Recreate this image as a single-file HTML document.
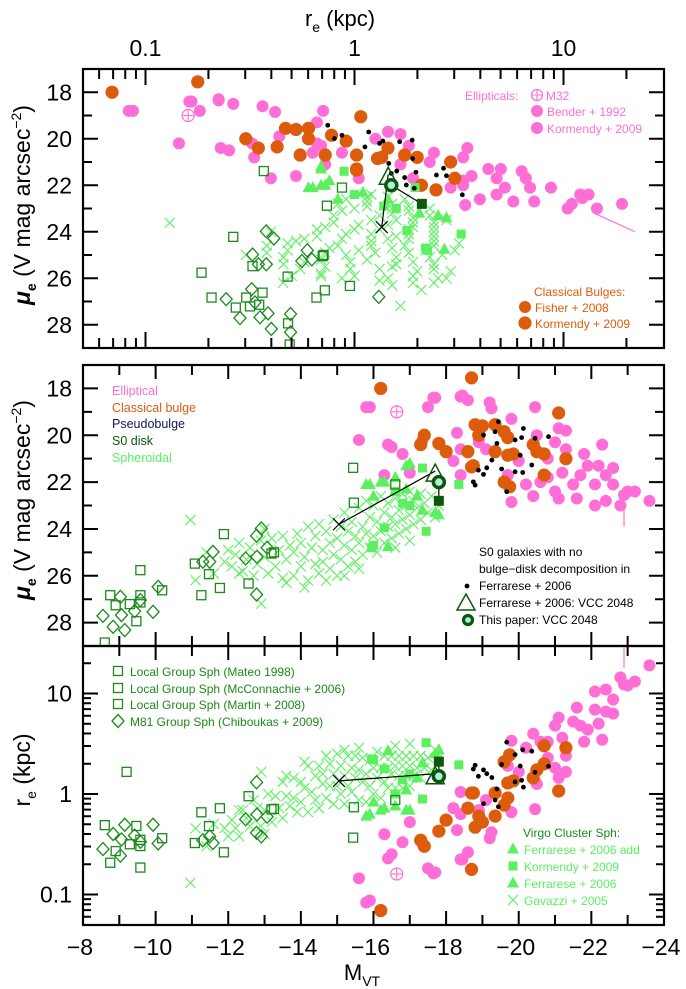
<!DOCTYPE html>
<html><head><meta charset="utf-8"><style>
html,body{margin:0;padding:0;background:#fff}
svg{display:block;font-family:"Liberation Sans",sans-serif}
</style></head><body>
<svg id="chart" width="686" height="989" viewBox="0 0 686 989">
<defs>
<clipPath id="c1"><rect x="83" y="69" width="581" height="279"/></clipPath>
<clipPath id="c2"><rect x="83" y="365" width="581" height="281"/></clipPath>
<clipPath id="c3"><rect x="83" y="646" width="581" height="279"/></clipPath>
</defs>
<g id="marks1" clip-path="url(#c1)"></g>
<g id="marks2" clip-path="url(#c2)"></g>
<g id="marks3" clip-path="url(#c3)"></g>
<g id="axes"></g>
<g id="legends"></g>
</svg>
<script>
// ---- data (M_VT, mu_e) ----
const pinkM=[-15.8,-16.4,-16.8,-17.5,-17.65,-18.4,-18.6,-19.2,-19.25,-19.8,-20.45,-20.5,-21.1,-21.3,-22.3,-18.3,-18.4,-18.2,-18.4,-18.9,-19.1,-19.8,-20.4,-20.2,-20.6,-21.0,-21.2,-21.5,-21.6,-21.9,-22.1,-22.1,-22.4,-22.6,-22.9,-23.2,-23.6,-21.3,-21.8,-20.8,-20.8,-21.1,-21.7,-22.2,-22.6,-22.8,-22.4,-23.0,-21.0,-20.0,-19.7,-17.0,-15.6,-15.9,-16.5,-17.35,-18.45,-17.7,-18.9,-16.3];
const pinkMu=[18.8,20.4,20.8,18.8,18.4,18.35,18.5,18.6,18.85,19.3,18.8,20.0,19.7,19.8,20.4,19.9,20.6,21.1,21.7,20.3,20.6,22.85,22.6,22.1,22.0,22.4,21.6,22.1,22.7,21.3,22.1,23.0,21.7,22.1,22.55,22.4,22.8,20.6,20.8,21.0,21.8,22.7,21.7,21.3,21.4,23.0,22.8,22.4,20.3,21.1,21.7,21.6,20.2,18.8,20.5,20.2,18.3,18.4,20.2,21.7];
const orangeM=[-16.2,-18.7,-21.1,-17.4,-17.3,-17.8,-18.0,-18.6,-18.7,-18.8,-19.0,-18.9,-19.35,-19.6,-19.7,-19.35,-19.7,-19.85,-19.6,-19.75,-20.4,-20.5,-20.7,-20.7,-21.3,-18.75];
const orangeMu=[18.0,17.55,19.05,20.0,20.4,20.35,20.7,20.7,21.35,19.55,19.6,20.0,19.55,19.85,20.1,20.7,20.85,20.8,22.0,22.2,20.4,20.7,20.8,21.7,21.0,21.3];
const dotM=[-19.44,-19.35,-19.03,-20.13,-20.08,-19.9,-20.45,-20.82,-19.4,-20.04,-19.26,-19.53,-19.9,-20.11,-20.36,-19.12,-18.89,-19.03,-18.75,-18.8,-19.67];
const dotMu=[19.42,19.85,19.99,19.71,20.1,20.2,20.13,20.06,20.35,20.85,21.06,21.44,21.56,21.59,21.27,21.39,21.49,21.67,21.99,22.13,22.41];
const crossM=[-11.9,-12.0,-12.1,-12.2,-12.3,-12.4,-12.5,-12.6,-12.7,-12.8,-12.9,-13.0,-13.1,-13.2,-13.3,-13.4,-13.5,-13.5,-13.6,-13.7,-13.8,-13.8,-13.9,-14.0,-14.0,-14.1,-14.2,-14.2,-14.3,-14.4,-14.4,-14.5,-14.5,-14.6,-14.6,-14.7,-14.8,-14.8,-14.9,-14.9,-15.0,-15.0,-15.1,-15.1,-15.2,-15.2,-15.3,-15.3,-15.4,-15.4,-15.5,-15.5,-15.6,-15.6,-15.7,-15.7,-15.8,-15.8,-15.9,-15.9,-16.0,-16.0,-16.1,-16.1,-16.2,-16.2,-16.3,-16.3,-16.4,-16.4,-16.5,-16.5,-16.6,-16.6,-16.7,-16.7,-16.8,-16.8,-16.9,-16.9,-17.0,-17.0,-17.1,-17.1,-17.2,-17.3,-17.3,-17.4,-17.5,-17.6,-17.7,-17.8,-12.3,-13.0,-13.6,-14.1,-14.7,-15.2,-15.6,-16.6,-17.0,-11.6,-11.4,-10.96,-11.1,-12.91];
const crossMu=[25.4,24.9,25.6,25.1,24.6,25.8,25.3,24.8,26.0,25.5,24.5,25.2,25.9,24.4,25.6,24.9,26.1,24.3,25.3,24.7,26.0,25.0,24.2,25.6,24.6,25.2,23.9,26.2,24.8,25.5,24.3,25.9,23.8,24.9,25.4,24.1,25.7,24.6,23.6,25.1,24.4,26.0,23.9,25.3,24.7,23.3,25.6,24.1,23.7,24.9,24.3,25.4,23.1,24.6,23.9,25.1,22.8,24.2,23.5,24.8,23.0,24.3,23.7,25.0,22.6,24.1,23.3,24.6,22.9,23.9,23.5,24.4,22.7,23.8,23.2,24.2,22.5,23.6,23.0,24.0,22.4,23.4,22.8,23.8,23.1,22.5,23.6,22.9,23.3,22.6,23.5,23.0,25.9,24.0,26.3,26.5,26.2,26.0,25.7,24.8,24.5,25.9,25.0,23.62,26.19,27.19];
const triM=[-16.9,-15.9,-16.3,-16.6,-17.0,-17.35,-17.8,-17.7,-16.4,-16.2,-15.8,-16.9,-17.2,-16.0];
const triMu=[21.3,22.1,22.0,21.8,21.2,23.2,23.4,23.3,24.75,22.0,22.1,22.3,22.6,22.6];
const vsqM=[-17.35,-16.6,-16.3,-16.0,-15.95,-17.45,-18.35,-16.8,-17.0];
const vsqMu=[21.4,22.4,23.95,24.7,24.8,24.1,22.1,22.9,23.0];
const lgM=[-15.44,-15.46,-11.88,-11.08,-11.47,-11.77,-11.26,-12.56,-13.19,-13.26,-9.58,-8.75,-8.9,-9.29,-9.58,-9.58,-9.47,-10.18,-8.6,-16.6,-9.2];
const lgMu=[21.39,22.88,24.22,25.48,25.93,26.52,26.83,26.33,25.05,25.0,25.76,26.83,27.26,27.21,26.83,27.14,27.94,26.62,28.85,22.1,30.9];
const m81M=[-12.91,-12.78,-11.58,-11.49,-11.3,-12.48,-12.79,-13.07,-12.78,-10.07,-9.93,-9.03,-9.42,-9.58,-9.06,-8.55,-8.83,-9.15];
const m81Mu=[23.98,24.29,24.98,25.4,25.4,25.26,25.19,24.8,26.8,26.47,27.54,26.9,27.51,27.04,27.68,27.71,28.18,28.32];
// VCC 2048 special points: X (Gavazzi), triangle (Ferrarese), circle (this paper), S0 disk square
const vccM=[-15.05,-17.7,-17.8,-17.8];
const vccMu=[23.8,21.7,22.0,22.8];
const vccRe=[1.35,1.45,1.5,2.1];
const m32M=[-16.64], m32Mu=[19.0], m32Re=[0.16];
// photometric zero points relating M, mu_e, r_e
const cEll=40.0, cSph=39.0, cDot=39.5;
const xTicksM=[-8,-10,-12,-14,-16,-18,-20,-22,-24];
const muTicks=[18,20,22,24,26,28];
const reTicks=[0.1,1,10];

// ---- scales ----
const xM=M=>83+(-8-M)*36.31;
const xR=r=>354.5+209*Math.log10(r);
const y1=mu=>69+(mu-17)*23.25;
const y2=mu=>365+(mu-17)*23.42;
const y3=r=>794-100.5*Math.log10(r);
const reOf=(M,mu,c)=>Math.pow(10,(mu-M-c)/5);

const NS='http://www.w3.org/2000/svg';
function mk(tag,attrs,parent){const e=document.createElementNS(NS,tag);for(const k in attrs)e.setAttribute(k,attrs[k]);parent.appendChild(e);return e;}
const P=[document.getElementById('marks1'),document.getElementById('marks2'),document.getElementById('marks3')];
const PINK='#ff6ed6',ORANGE='#dd5c0c',LG='#5cf060',DG='#1b8a1b',S0='#0d560d';

function marker(kind,x,y,color,g,name){
  let e;
  if(kind==='circle'){e=mk('circle',{cx:x,cy:y,r:6,fill:color},g);}
  else if(kind==='bigcircle'){e=mk('circle',{cx:x,cy:y,r:6.6,fill:color},g);}
  else if(kind==='dot'){e=mk('circle',{cx:x,cy:y,r:2.4,fill:color},g);}
  else if(kind==='cross'){e=mk('path',{d:`M${x-5},${y-5}L${x+5},${y+5}M${x-5},${y+5}L${x+5},${y-5}`,stroke:color,'stroke-width':1.1,fill:'none'},g);}
  else if(kind==='tri'){e=mk('path',{d:`M${x},${y-6.5}L${x+6},${y+4.5}L${x-6},${y+4.5}Z`,fill:color},g);}
  else if(kind==='fsq'){e=mk('rect',{x:x-4.5,y:y-4.5,width:9,height:9,fill:color},g);}
  else if(kind==='osq'){e=mk('rect',{x:x-4.5,y:y-4.5,width:9,height:9,fill:'none',stroke:color,'stroke-width':1.3},g);}
  else if(kind==='dia'){e=mk('path',{d:`M${x},${y-6.5}L${x+6},${y}L${x},${y+6.5}L${x-6},${y}Z`,fill:'none',stroke:color,'stroke-width':1.3},g);}
  
  
  return e;
}
function plotGroup(Ms,Mus,c,kind,color,name){
  const n=Math.min(Ms.length,Mus.length);
  for(let i=0;i<n;i++){
    const re=reOf(Ms[i],Mus[i],c);
    marker(kind,xR(re),y1(Mus[i]),color,P[0],name);
    marker(kind,xM(Ms[i]),y2(Mus[i]),color,P[1],name);
    marker(kind,xM(Ms[i]),y3(re),color,P[2],name);
  }
}
plotGroup(pinkM,pinkMu,cEll,'circle',PINK,'elliptical-point');
plotGroup(orangeM,orangeMu,cEll,'bigcircle',ORANGE,'classical-bulge-point');
plotGroup(crossM,crossMu,cSph,'cross',LG,'gavazzi-spheroidal-point');
plotGroup(triM,triMu,cSph,'tri',LG,'ferrarese-spheroidal-point');
plotGroup(vsqM,vsqMu,cSph,'fsq',LG,'kormendy-spheroidal-point');
plotGroup(lgM,lgMu,cSph,'osq',DG,'local-group-sph-point');
plotGroup(m81M,m81Mu,cSph,'dia',DG,'m81-group-sph-point');
plotGroup(dotM,dotMu,cDot,'dot','#000','s0-no-decomposition-point');

// M32
for(let i=0;i<m32M.length;i++){
  const pts=[[xR(m32Re[i]),y1(m32Mu[i]),0],[xM(m32M[i]),y2(m32Mu[i]),1],[xM(m32M[i]),y3(m32Re[i]),2]];
  pts.forEach(([x,y,p])=>{const g=mk('g',{},P[p]);
    
    
    mk('circle',{cx:x,cy:y,r:6,fill:'none',stroke:PINK,'stroke-width':1.2},g);
    mk('path',{d:`M${x-6},${y}H${x+6}M${x},${y-6}V${y+6}`,stroke:PINK,'stroke-width':1.1},g);});
}
// pink error bars
mk('line',{x1:xR(14),y1:y1(23.2),x2:xR(22),y2:y1(24.0),stroke:PINK,'stroke-width':1.2},P[0]);
mk('line',{x1:xM(-22.9),y1:y2(23.1),x2:xM(-22.9),y2:y2(23.9),stroke:PINK,'stroke-width':1.2},P[1]);
mk('line',{x1:xM(-22.9),y1:y3(18),x2:xM(-22.9),y2:y3(32),stroke:PINK,'stroke-width':1.2},P[2]);

// VCC 2048
function vcc(p,fx,fy){
  const g=mk('g',{},P[p]);
  
  
  const X=vccM.map((m,i)=>fx(i)), Y=vccM.map((m,i)=>fy(i));
  mk('line',{x1:X[0],y1:Y[0],x2:X[1],y2:Y[1]-4,stroke:'#000','stroke-width':1.2},g);
  mk('line',{x1:X[2],y1:Y[2],x2:X[3],y2:Y[3],stroke:'#000','stroke-width':1.2},g);
  mk('path',{d:`M${X[0]-6},${Y[0]-6}L${X[0]+6},${Y[0]+6}M${X[0]-6},${Y[0]+6}L${X[0]+6},${Y[0]-6}`,stroke:'#000','stroke-width':1.2},g);
  mk('rect',{x:X[3]-5,y:Y[3]-5,width:10,height:10,fill:S0},g);
  mk('path',{d:`M${X[1]},${Y[1]-11}L${X[1]+9},${Y[1]+6}L${X[1]-9},${Y[1]+6}Z`,fill:'none',stroke:S0,'stroke-width':1.5},g);
  mk('circle',{cx:X[2],cy:Y[2],r:5.5,fill:'#b0f0e0',stroke:S0,'stroke-width':3.5},g);
}
vcc(0,i=>xR(vccRe[i]),i=>y1(vccMu[i]));
vcc(1,i=>xM(vccM[i]),i=>y2(vccMu[i]));
vcc(2,i=>xM(vccM[i]),i=>y3(vccRe[i]));

// ---- axes ----
const A=document.getElementById('axes');
function txt(s,x,y,size,anchor,parent,name,fill){const t=mk('text',{x:x,y:y,'font-size':size,'text-anchor':anchor||'middle',fill:fill||'#000'},parent||A);t.textContent=s;return t;}
const panels=[[69,348],[365,646],[646,925]];
panels.forEach(([t,b],i)=>{const r=mk('rect',{x:83,y:t,width:581,height:b-t,fill:'none',stroke:'#000','stroke-width':2.2},A);
  });
let d='';
for(let e=-2;e<=1;e++)for(let k=1;k<=9;k++){const r=k*Math.pow(10,e);const x=xR(r);if(x<84||x>663)continue;const L=k===1?16:10;
  d+=`M${x},69v${L}M${x},348v${-L}`;}
for(let m=-9;m>=-23;m--){const x=xM(m);const L=(m%2===0)?14:10;
  d+=`M${x},365v${L}M${x},646v${-L}M${x},646v${L}M${x},925v${-L}`;}
for(let mu=17;mu<=29;mu++){const L=(mu%2===0)?15:9;
  [y1(mu),y2(mu)].forEach((y,pi)=>{const top=pi?365:69,bot=pi?646:348;if(y<=top+1||y>=bot-1)return;d+=`M83,${y}h${L}M664,${y}h${-L}`;});}
for(let e=-2;e<=1;e++)for(let k=1;k<=9;k++){const r=k*Math.pow(10,e);const y=y3(r);if(y<647||y>924)continue;const L=k===1?15:8;
  d+=`M83,${y}h${L}M664,${y}h${-L}`;}
const tk=mk('path',{d:d,stroke:'#000','stroke-width':2,fill:'none'},A);


xTicksM.forEach(m=>txt(String(m).replace('-','\u2212'),xM(m)-3,955,23,'middle',A,'x-tick-label'));
reTicks.forEach(r=>txt(String(r),xR(r),56,23,'middle',A,'top-x-tick-label'));
muTicks.forEach(mu=>{txt(String(mu),72,y1(mu)+8,23,'end',A,'y-tick-label-panel1');txt(String(mu),72,y2(mu)+8,23,'end',A,'y-tick-label-panel2');});
[[10,'10'],[1,'1'],[0.1,'0.1']].forEach(([r,s])=>txt(s,72,y3(r)+8,23,'end',A,'y-tick-label-panel3'));

const tt=mk('text',{x:340,y:26,'font-size':22,'text-anchor':'middle'},A);
tt.innerHTML='r<tspan font-size="14" dy="6">e</tspan><tspan dy="-6"> (kpc)</tspan>';
const bt=mk('text',{x:362,y:980,'font-size':22,'text-anchor':'middle'},A);
bt.innerHTML='M<tspan font-size="14" dy="6">VT</tspan>';
function ytitle(cy,html,name){const t=mk('text',{x:0,y:0,'font-size':23,'text-anchor':'middle',transform:`translate(30,${cy}) rotate(-90)`},A);t.innerHTML=html;}
ytitle(205,'<tspan font-style="italic" font-weight="bold">μ</tspan><tspan font-size="14" dy="6" font-weight="bold">e</tspan><tspan dy="-6"> (V mag arcsec</tspan><tspan font-size="14" dy="-9">−2</tspan><tspan dy="9">)</tspan>','y-axis-title-panel1');
ytitle(500,'<tspan font-style="italic" font-weight="bold">μ</tspan><tspan font-size="14" dy="6" font-weight="bold">e</tspan><tspan dy="-6"> (V mag arcsec</tspan><tspan font-size="14" dy="-9">−2</tspan><tspan dy="9">)</tspan>','y-axis-title-panel2');
ytitle(770,'r<tspan font-size="14" dy="6">e</tspan><tspan dy="-6">  (kpc)</tspan>','y-axis-title-panel3');

// ---- legends ----
const Lg=document.getElementById('legends');
function lgEntry(kind,mx,my,color,text,tx,ty,tcolor,size,name){
  const g=mk('g',{},Lg);
  if(kind)marker(kind,mx,my,color,g,name+'-marker');
  txt(text,tx,ty,size||12,'start',g,name+'-label',tcolor);
}
lgEntry(null,0,0,'', 'Ellipticals:',465,100,PINK,12,'legend-ellipticals');
{const g=mk('g',{},Lg);
 mk('circle',{cx:537,cy:95,r:5.5,fill:'none',stroke:PINK,'stroke-width':1.2},g);mk('path',{d:'M531.5,95h11M537,89.5v11',stroke:PINK,'stroke-width':1.1},g);}
lgEntry(null,0,0,'','M32',546,100,PINK,12,'legend-m32');
lgEntry('circle',537,111,PINK,'Bender + 1992',547,116,PINK,12,'legend-bender-1992');
lgEntry('circle',537,128,PINK,'Kormendy + 2009',547,133,PINK,12,'legend-kormendy-2009-ell');
lgEntry(null,0,0,'','Classical Bulges:',534,296,ORANGE,12,'legend-classical-bulges');
lgEntry('circle',525,307,ORANGE,'Fisher + 2008',535,312,ORANGE,12,'legend-fisher-2008');
lgEntry('bigcircle',525,323,ORANGE,'Kormendy + 2009',535,328,ORANGE,12,'legend-kormendy-2009-bulge');

lgEntry(null,0,0,'','Elliptical',112,395,PINK,12.5,'legend-elliptical');
lgEntry(null,0,0,'','Classical bulge',112,412,ORANGE,12.5,'legend-classical-bulge');
lgEntry(null,0,0,'','Pseudobulge',112,428,'#141464',12.5,'legend-pseudobulge');
lgEntry(null,0,0,'','S0 disk',112,445,S0,12.5,'legend-s0-disk');
lgEntry(null,0,0,'','Spheroidal',112,462,LG,12.5,'legend-spheroidal');

lgEntry(null,0,0,'','S0 galaxies with  no',479,556,'#000',12,'legend-s0-note-1');
lgEntry(null,0,0,'','bulge\u2212disk decomposition in',479,573,'#000',12,'legend-s0-note-2');
lgEntry('dot',467,586,'#000','Ferrarese + 2006',479,590,'#000',12,'legend-ferrarese-2006-dots');
{const g=mk('g',{},Lg);
 mk('path',{d:'M466,594L475,610L457,610Z',fill:'none',stroke:S0,'stroke-width':1.5},g);}
lgEntry(null,0,0,'','Ferrarese + 2006: VCC 2048',479,607,'#000',12,'legend-ferrarese-vcc2048');
{const g=mk('g',{},Lg);
 mk('circle',{cx:468,cy:620,r:4.5,fill:'#b0f0e0',stroke:S0,'stroke-width':3.2},g);}
lgEntry(null,0,0,'','This paper: VCC 2048',479,624,'#000',12,'legend-this-paper');

lgEntry('osq',118,671,DG,'Local Group Sph (Mateo 1998)',130,676,DG,12,'legend-mateo-1998');
lgEntry('osq',118,688,DG,'Local Group Sph (McConnachie + 2006)',130,693,DG,12,'legend-mcconnachie-2006');
lgEntry('osq',118,704,DG,'Local Group Sph (Martin + 2008)',130,709,DG,12,'legend-martin-2008');
lgEntry('dia',118,721,DG,'M81  Group Sph (Chiboukas + 2009)',130,726,DG,12,'legend-chiboukas-2009');

lgEntry(null,0,0,'','Virgo Cluster Sph:',523,837,'#1b8a1b',12,'legend-virgo-title');
lgEntry('tri',513,849,LG,'Ferrarese + 2006 add',524,854,LG,12,'legend-ferrarese-2006-add');
lgEntry('fsq',513,866,LG,'Kormendy + 2009',524,871,LG,12,'legend-kormendy-2009-sph');
lgEntry('tri',513,883,LG,'Ferrarese + 2006',524,888,LG,12,'legend-ferrarese-2006');
lgEntry('cross',513,900,LG,'Gavazzi + 2005',524,905,LG,12,'legend-gavazzi-2005');
</script>
</body></html>
